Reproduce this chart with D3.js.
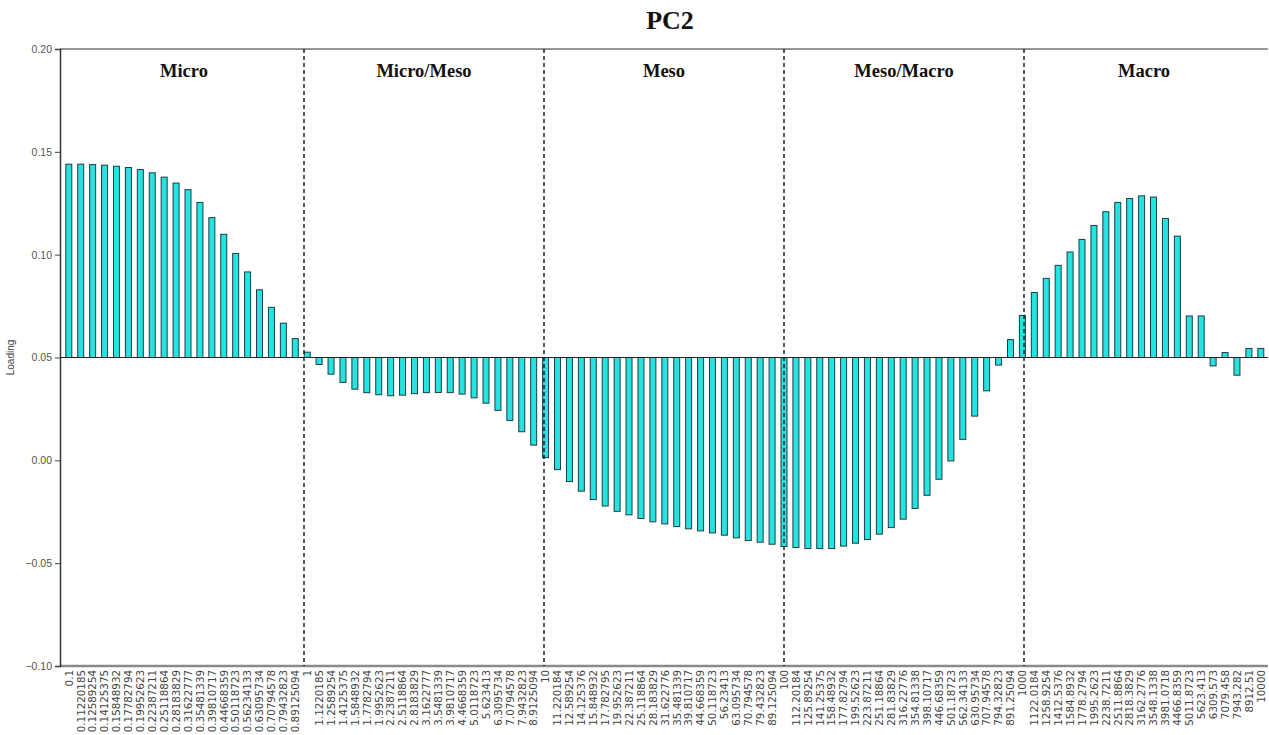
<!DOCTYPE html>
<html>
<head>
<meta charset="utf-8">
<script src="https://cdn.jsdelivr.net/npm/d3@7"></script>
<style>
  html, body { margin: 0; padding: 0; background: #fff; }
  svg { display: block; }
</style>
</head>
<body>
<svg id="chart" width="1269" height="735"></svg>
<script>
// Particle size classes (µm), 20 steps per decade from 0.1 to 10000
const sizeLabels = [
  "0.1","0.11220185","0.12589254","0.14125375","0.15848932","0.17782794","0.19952623","0.22387211","0.25118864","0.28183829",
  "0.31622777","0.35481339","0.39810717","0.44668359","0.50118723","0.56234133","0.63095734","0.70794578","0.79432823","0.89125094",
  "1","1.1220185","1.2589254","1.4125375","1.5848932","1.7782794","1.9952623","2.2387211","2.5118864","2.8183829",
  "3.1622777","3.5481339","3.9810717","4.4668359","5.0118723","5.623413","6.3095734","7.0794578","7.9432823","8.9125094",
  "10","11.220184","12.589254","14.125376","15.848932","17.782795","19.952623","22.387211","25.118864","28.183829",
  "31.622776","35.481339","39.810717","44.668359","50.118723","56.23413","63.095734","70.794578","79.432823","89.125094",
  "100","112.20184","125.89254","141.25375","158.48932","177.82794","199.52623","223.87211","251.18864","281.83829",
  "316.22776","354.81338","398.10717","446.68359","501.18723","562.34133","630.95734","707.94578","794.32823","891.25094",
  "1000","1122.0184","1258.9254","1412.5376","1584.8932","1778.2794","1995.2623","2238.7211","2511.8864","2818.3829",
  "3162.2776","3548.1338","3981.0718","4466.8359","5011.8723","5623.413","6309.573","7079.458","7943.282","8912.51",
  "10000"
];

// PC2 loadings per size class
const loadings = [
  0.1440, 0.1440, 0.1438, 0.1435, 0.1430, 0.1424, 0.1414, 0.1398, 0.1377, 0.1348,
  0.1316, 0.1254, 0.1180, 0.1099, 0.1006, 0.0916, 0.0829, 0.0744, 0.0667, 0.0592,
  0.0526, 0.0466, 0.0419, 0.0379, 0.0346, 0.0329, 0.0319, 0.0314, 0.0317, 0.0324,
  0.0329, 0.0330, 0.0329, 0.0322, 0.0304, 0.0278, 0.0243, 0.0194, 0.0139, 0.0074,
  0.0013, -0.0045, -0.0103, -0.0150, -0.0191, -0.0222, -0.0248, -0.0265, -0.0283, -0.0299,
  -0.0309, -0.0322, -0.0333, -0.0343, -0.0353, -0.0364, -0.0377, -0.0390, -0.0398, -0.0408,
  -0.0419, -0.0424, -0.0429, -0.0429, -0.0429, -0.0417, -0.0403, -0.0385, -0.0359, -0.0327,
  -0.0286, -0.0234, -0.0170, -0.0092, -0.0003, 0.0102, 0.0215, 0.0338, 0.0463, 0.0587,
  0.0705, 0.0816, 0.0885, 0.0948, 0.1013, 0.1074, 0.1142, 0.1209, 0.1254, 0.1273,
  0.1286, 0.1280, 0.1176, 0.1090, 0.0702, 0.0702, 0.0459, 0.0524, 0.0414, 0.0544,
  0.0544
];

// Pore-size domains and their boundaries (µm)
const domainNames = ["Micro", "Micro/Meso", "Meso", "Meso/Macro", "Macro"];
const domainEdges = [0.1, 1, 10, 100, 1000, 10000];

const yTicks = [0.20, 0.15, 0.10, 0.05, 0.00, -0.05, -0.10];
const barBase = 0.05;

const svg = d3.select("#chart");
const plotLeft = 60, plotTop = 49, plotBottom = 666, plotRight = 1268;

const y = d3.scaleLinear().domain([-0.10, 0.20]).range([plotBottom, plotTop]);
const x = d3.scaleLinear().domain([0, loadings.length - 1]).range([68.8, 1260.8]);
const xDom = d3.scaleLog().domain([0.1, 10000]).range([64, 1264]);
const barW = 6;

// frame
svg.append("line").attr("x1", plotLeft).attr("x2", plotRight).attr("y1", plotTop).attr("y2", plotTop)
  .attr("stroke", "#333").attr("stroke-width", 1.2);
svg.append("line").attr("x1", plotLeft).attr("x2", plotRight).attr("y1", plotBottom).attr("y2", plotBottom)
  .attr("stroke", "#8a8a8a").attr("stroke-width", 2.5);

// y axis
const yAxis = d3.axisLeft(y).tickValues(yTicks).tickFormat(d3.format(".2f")).tickSize(5).tickPadding(3);
const gy = svg.append("g").attr("transform", `translate(${plotLeft},0)`).call(yAxis);
gy.select(".domain").attr("stroke", "#333").attr("stroke-width", 1.5);
gy.selectAll(".tick line").attr("stroke", "#444");
gy.selectAll(".tick text").attr("fill", "#555").attr("font-family", "Liberation Sans, Arial, sans-serif").attr("font-size", 10.5);

svg.append("text")
  .attr("transform", `translate(14,${y(barBase)}) rotate(-90)`)
  .attr("text-anchor", "middle")
  .attr("font-family", "Liberation Sans, Arial, sans-serif")
  .attr("font-size", 10).attr("fill", "#444")
  .text("Loading");

// bars from the 0.05 reference level
svg.append("g").selectAll("rect").data(loadings).join("rect")
  .attr("x", (d, i) => x(i) - barW / 2)
  .attr("y", d => Math.min(y(d), y(barBase)))
  .attr("width", barW)
  .attr("height", d => Math.abs(y(d) - y(barBase)))
  .attr("fill", "#25E3E0")
  .attr("stroke", "#1d3d44")
  .attr("stroke-width", 1);

svg.append("line").attr("x1", plotLeft).attr("x2", plotRight)
  .attr("y1", y(barBase)).attr("y2", y(barBase))
  .attr("stroke", "#222").attr("stroke-width", 1.2);

// domain dividers
svg.append("g").selectAll("line").data(domainEdges.slice(1, -1)).join("line")
  .attr("x1", d => xDom(d)).attr("x2", d => xDom(d))
  .attr("y1", plotTop).attr("y2", plotBottom)
  .attr("stroke", "#111").attr("stroke-width", 1.4)
  .attr("stroke-dasharray", "4,3");

// domain names
svg.append("g").selectAll("text").data(domainNames).join("text")
  .attr("x", (d, i) => xDom(Math.sqrt(domainEdges[i] * domainEdges[i + 1])))
  .attr("y", 77)
  .attr("text-anchor", "middle")
  .attr("font-family", "Liberation Serif, Times New Roman, serif")
  .attr("font-weight", "bold")
  .attr("font-size", 18.5)
  .attr("fill", "#111")
  .text(d => d);

// size-class labels
svg.append("g").selectAll("text").data(sizeLabels).join("text")
  .attr("transform", (d, i) => `translate(${x(i) + 3.8},${plotBottom + 4}) rotate(-90)`)
  .attr("text-anchor", "end")
  .attr("font-family", "DejaVu Sans, Verdana, sans-serif")
  .attr("font-size", 10.3)
  .attr("fill", "#444")
  .text(d => d);

// title
svg.append("text")
  .attr("x", 670).attr("y", 29)
  .attr("text-anchor", "middle")
  .attr("font-family", "Liberation Serif, Times New Roman, serif")
  .attr("font-weight", "bold")
  .attr("font-size", 26)
  .attr("fill", "#111")
  .text("PC2");
</script>
</body>
</html>
